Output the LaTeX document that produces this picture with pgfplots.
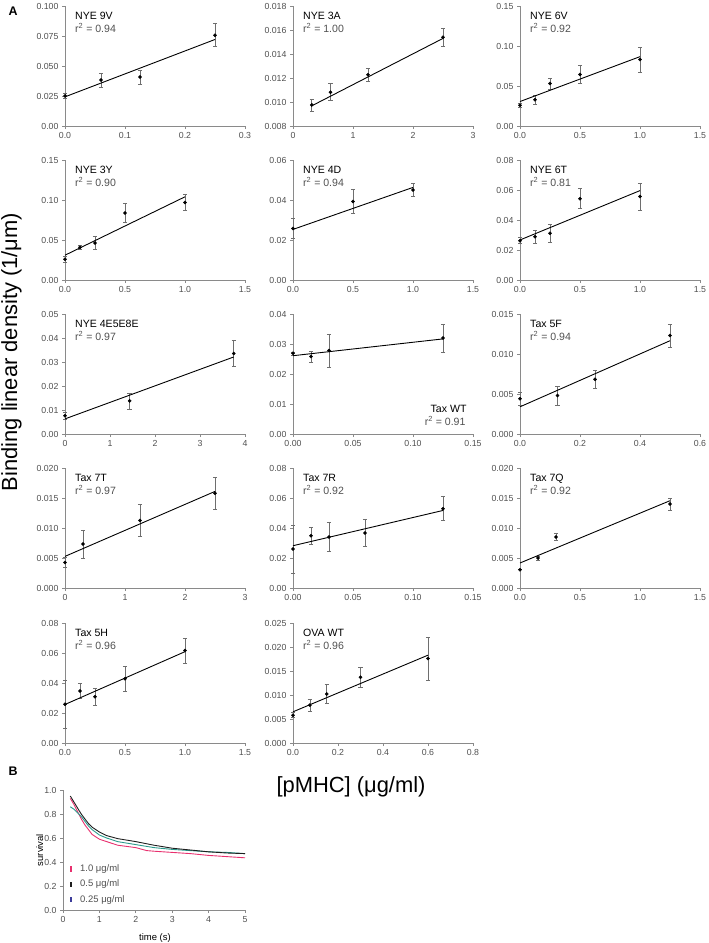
\documentclass[border=0pt]{standalone}
\usepackage{pgfplots}
\pgfplotsset{compat=1.18}
\usepackage{fontspec}
\setmainfont{Liberation Sans}
\definecolor{axgray}{HTML}{8A8A8A}
\definecolor{tkgray}{HTML}{505050}
\definecolor{errgray}{HTML}{6E6E6E}
\definecolor{rgray}{HTML}{505050}
\definecolor{kmpink}{HTML}{E8306E}
\definecolor{kmteal}{HTML}{2A9A8C}
\definecolor{kmblack}{HTML}{1E1E1E}
\definecolor{kmpurple}{HTML}{3C3C9A}
\newcommand{\tkfont}{\fontsize{8.8}{10}\selectfont}
\newcommand{\ttl}{\fontsize{10.6}{12}\selectfont}
\newcommand{\ptitle}[2]{%
  \node[anchor=base west, font=\ttl] at ([xshift=6.7bp,yshift=-13.7bp]rel axis cs:0,1) {#1};
  \node[anchor=base west, font=\ttl, text=rgray] at ([xshift=6.7bp,yshift=-26.3bp]rel axis cs:0,1) {r\textsuperscript{2} = #2};}
\pgfplotsset{
  panel/.style={scale only axis, width=180bp, height=120bp, anchor=south west,
    axis lines=left, axis line style={-, draw=axgray, line width=0.7pt},
    tick style={draw=axgray, line width=0.7pt}, tick align=outside, major tick length=3bp,
    ticklabel style={font=\tkfont, text=tkgray},
    scaled x ticks=false, scaled y ticks=false,
    enlargelimits=false, clip=false},
  pts/.style={only marks, mark=*, mark size=1.6bp, black,
    error bars/.cd, y dir=both, y explicit,
    error bar style={line width=0.6pt, errgray},
    error mark options={rotate=90, line width=0.6pt, errgray, mark size=2.2bp}},
  fit/.style={black, line width=0.9pt}
}
\begin{document}
\begin{tikzpicture}
\useasboundingbox (0,0) rectangle (709bp,-943bp);
\node[anchor=north west, font=\bfseries\fontsize{12.5}{14}\selectfont] at (5bp,-3bp) {A};
\node[anchor=north west, font=\bfseries\fontsize{12.5}{14}\selectfont] at (5bp,-763bp) {B};
\node[anchor=base, rotate=90, font=\fontsize{22}{26}\selectfont] at (17bp,-352bp) {Binding linear density (1/μm)};
\node[anchor=base west, font=\fontsize{22}{26}\selectfont] at (273bp,-792bp) {[pMHC] (μg/ml)};

% Row 1
\begin{axis}[panel, at={(65bp,-126bp)}, xmin=0, xmax=0.3, xtick={0,0.1,0.2,0.3}, xticklabels={0.0,0.1,0.2,0.3},
  ymin=0, ymax=0.1, ytick={0,0.025,0.05,0.075,0.1}, yticklabels={0.00,0.025,0.050,0.075,0.100}]
\addplot[pts] table[x=x,y=y,y error=e] {
x y e
0 0.0251 0.0023
0.06 0.0383 0.006
0.125 0.0408 0.0057
0.25 0.0757 0.0096
};
\addplot[fit] coordinates {(0,0.0243) (0.25,0.0721)};
\ptitle{NYE 9V}{0.94}
\end{axis}

\begin{axis}[panel, at={(293bp,-126bp)}, xmin=0, xmax=3, xtick={0,1,2,3}, xticklabels={0,1,2,3},
  ymin=0.008, ymax=0.018, ytick={0.008,0.010,0.012,0.014,0.016,0.018}, yticklabels={0.008,0.010,0.012,0.014,0.016,0.018}]
\addplot[pts] table[x=x,y=y,y error=e] {
x y e
0.3125 0.00976 0.0005
0.625 0.01082 0.0007
1.25 0.01227 0.00056
2.5 0.0154 0.00074
};
\addplot[fit] coordinates {(0.3125,0.00968) (2.5,0.0153)};
\ptitle{NYE 3A}{1.00}
\end{axis}

\begin{axis}[panel, at={(520bp,-126bp)}, xmin=0, xmax=1.5, xtick={0,0.5,1,1.5}, xticklabels={0.0,0.5,1.0,1.5},
  ymin=0, ymax=0.15, ytick={0,0.05,0.1,0.15}, yticklabels={0.00,0.05,0.10,0.15}]
\addplot[pts] table[x=x,y=y,y error=e] {
x y e
0 0.026 0.003
0.125 0.0327 0.0054
0.25 0.0532 0.007
0.5 0.0645 0.011
1.0 0.083 0.016
};
\addplot[fit] coordinates {(0,0.0306) (1,0.0867)};
\ptitle{NYE 6V}{0.92}
\end{axis}

% Row 2
\begin{axis}[panel, at={(65bp,-280bp)}, xmin=0, xmax=1.5, xtick={0,0.5,1,1.5}, xticklabels={0.0,0.5,1.0,1.5},
  ymin=0, ymax=0.15, ytick={0,0.05,0.1,0.15}, yticklabels={0.00,0.05,0.10,0.15}]
\addplot[pts] table[x=x,y=y,y error=e] {
x y e
0 0.026 0.004
0.125 0.0408 0.002
0.25 0.0463 0.0083
0.5 0.0838 0.012
1.0 0.097 0.0104
};
\addplot[fit] coordinates {(0,0.031) (1,0.104)};
\ptitle{NYE 3Y}{0.90}
\end{axis}

\begin{axis}[panel, at={(293bp,-280bp)}, xmin=0, xmax=1.5, xtick={0,0.5,1,1.5}, xticklabels={0.0,0.5,1.0,1.5},
  ymin=0, ymax=0.06, ytick={0,0.02,0.04,0.06}, yticklabels={0.00,0.02,0.04,0.06}]
\addplot[pts] table[x=x,y=y,y error=e] {
x y e
0 0.0258 0.005
0.5 0.0393 0.006
1.0 0.045 0.0033
};
\addplot[fit] coordinates {(0,0.0253) (1,0.0463)};
\ptitle{NYE 4D}{0.94}
\end{axis}

\begin{axis}[panel, at={(520bp,-280bp)}, xmin=0, xmax=1.5, xtick={0,0.5,1,1.5}, xticklabels={0.0,0.5,1.0,1.5},
  ymin=0, ymax=0.08, ytick={0,0.02,0.04,0.06,0.08}, yticklabels={0.00,0.02,0.04,0.06,0.08}]
\addplot[pts] table[x=x,y=y,y error=e] {
x y e
0 0.0262 0.002
0.125 0.0289 0.0041
0.25 0.0311 0.0059
0.5 0.0542 0.0067
1.0 0.0556 0.0092
};
\addplot[fit] coordinates {(0,0.0267) (1,0.0596)};
\ptitle{NYE 6T}{0.81}
\end{axis}

% Row 3
\begin{axis}[panel, at={(65bp,-434bp)}, xmin=0, xmax=4, xtick={0,1,2,3,4}, xticklabels={0,1,2,3,4},
  ymin=0, ymax=0.05, ytick={0,0.01,0.02,0.03,0.04,0.05}, yticklabels={0.00,0.01,0.02,0.03,0.04,0.05}]
\addplot[pts] table[x=x,y=y,y error=e] {
x y e
0 0.0076 0.0015
1.4375 0.0138 0.0033
3.75 0.0335 0.0054
};
\addplot[fit] coordinates {(0,0.0063) (3.75,0.0321)};
\ptitle{NYE 4E5E8E}{0.97}
\end{axis}

\begin{axis}[panel, at={(293bp,-434bp)}, xmin=0, xmax=0.15, xtick={0,0.05,0.1,0.15}, xticklabels={0.00,0.05,0.10,0.15},
  ymin=0, ymax=0.04, ytick={0,0.01,0.02,0.03,0.04}, yticklabels={0.00,0.01,0.02,0.03,0.04}]
\addplot[pts] table[x=x,y=y,y error=e] {
x y e
0 0.0269 0.0005
0.015 0.0258 0.0019
0.03 0.0278 0.0054
0.125 0.032 0.0046
};
\addplot[fit] coordinates {(0,0.0261) (0.125,0.0317)};
\node[anchor=base east, font=\ttl] at ([xshift=-3bp,yshift=22bp]rel axis cs:1,0) {Tax WT};
\node[anchor=base east, font=\ttl, text=rgray] at ([xshift=-4bp,yshift=9bp]rel axis cs:1,0) {r\textsuperscript{2} = 0.91};
\end{axis}

\begin{axis}[panel, at={(520bp,-434bp)}, xmin=0, xmax=0.6, xtick={0,0.2,0.4,0.6}, xticklabels={0.0,0.2,0.4,0.6},
  ymin=0, ymax=0.015, ytick={0,0.005,0.01,0.015}, yticklabels={0.000,0.005,0.010,0.015}]
\addplot[pts] table[x=x,y=y,y error=e] {
x y e
0 0.0044 0.0008
0.125 0.0048 0.0012
0.25 0.00683 0.0011
0.5 0.0123 0.0014
};
\addplot[fit] coordinates {(0,0.0034) (0.5,0.01166)};
\ptitle{Tax 5F}{0.94}
\end{axis}

% Row 4
\begin{axis}[panel, at={(65bp,-588bp)}, xmin=0, xmax=3, xtick={0,1,2,3}, xticklabels={0,1,2,3},
  ymin=0, ymax=0.02, ytick={0,0.005,0.01,0.015,0.02}, yticklabels={0.000,0.005,0.010,0.015,0.020}]
\addplot[pts] table[x=x,y=y,y error=e] {
x y e
0 0.00427 0.0008
0.3 0.00733 0.0023
1.25 0.01127 0.0027
2.5 0.0158 0.0026
};
\addplot[fit] coordinates {(0,0.00527) (2.5,0.0161)};
\ptitle{Tax 7T}{0.97}
\end{axis}

\begin{axis}[panel, at={(293bp,-588bp)}, xmin=0, xmax=0.15, xtick={0,0.05,0.1,0.15}, xticklabels={0.00,0.05,0.10,0.15},
  ymin=0, ymax=0.08, ytick={0,0.02,0.04,0.06,0.08}, yticklabels={0.00,0.02,0.04,0.06,0.08}]
\addplot[pts] table[x=x,y=y,y error=e] {
x y e
0 0.026 0.016
0.015 0.0349 0.0055
0.03 0.034 0.0097
0.06 0.0367 0.009
0.125 0.0529 0.008
};
\addplot[fit] coordinates {(0,0.0282) (0.125,0.0517)};
\ptitle{Tax 7R}{0.92}
\end{axis}

\begin{axis}[panel, at={(520bp,-588bp)}, xmin=0, xmax=1.5, xtick={0,0.5,1,1.5}, xticklabels={0.0,0.5,1.0,1.5},
  ymin=0, ymax=0.02, ytick={0,0.005,0.01,0.015,0.02}, yticklabels={0.000,0.005,0.010,0.015,0.020}]
\addplot[pts] table[x=x,y=y,y error=e] {
x y e
0 0.00305 0
0.15 0.005 0.0003
0.3 0.0085 0.0006
1.25 0.014 0.001
};
\addplot[fit] coordinates {(0,0.00417) (1.25,0.01455)};
\ptitle{Tax 7Q}{0.92}
\end{axis}

% Row 5
\begin{axis}[panel, at={(65bp,-743bp)}, xmin=0, xmax=1.5, xtick={0,0.5,1,1.5}, xticklabels={0.0,0.5,1.0,1.5},
  ymin=0, ymax=0.08, ytick={0,0.02,0.04,0.06,0.08}, yticklabels={0.00,0.02,0.04,0.06,0.08}]
\addplot[pts] table[x=x,y=y,y error=e] {
x y e
0 0.0259 0.016
0.125 0.0347 0.005
0.25 0.0308 0.0055
0.5 0.0429 0.0084
1.0 0.0616 0.0085
};
\addplot[fit] coordinates {(0,0.0257) (1,0.0609)};
\ptitle{Tax 5H}{0.96}
\end{axis}

\begin{axis}[panel, at={(293bp,-743bp)}, xmin=0, xmax=0.8, xtick={0,0.2,0.4,0.6,0.8}, xticklabels={0.0,0.2,0.4,0.6,0.8},
  ymin=0, ymax=0.025, ytick={0,0.005,0.01,0.015,0.02,0.025}, yticklabels={0.000,0.005,0.010,0.015,0.020,0.025}]
\addplot[pts] table[x=x,y=y,y error=e] {
x y e
0 0.0058 0.0005
0.075 0.0079 0.0012
0.15 0.0102 0.002
0.3 0.0137 0.002
0.6 0.0176 0.0045
};
\addplot[fit] coordinates {(0,0.0065) (0.6,0.0183)};
\ptitle{OVA WT}{0.96}
\end{axis}

% Panel B
\begin{axis}[panel, width=182bp, at={(63bp,-910bp)}, xmin=0, xmax=5, xtick={0,1,2,3,4,5}, xticklabels={0,1,2,3,4,5},
  ymin=0, ymax=1, ytick={0,0.2,0.4,0.6,0.8,1}, yticklabels={0.0,0.2,0.4,0.6,0.8,1.0},
  legend cell align=left,
  legend style={at={(rel axis cs:0.025,0.025)}, anchor=south west, draw=none, fill=none,
    font=\fontsize{9.5}{11}\selectfont, text=tkgray, row sep=3bp, inner sep=1bp},
  legend image code/.code={\draw[#1, line width=2.2pt] (0.06cm,-0.09cm) -- (0.06cm,0.09cm); \path (0cm,0cm) (0.32cm,0cm);}]
\addplot[kmpink, line width=0.9pt, forget plot] coordinates {(0.2,0.93) (0.3,0.88) (0.4,0.82) (0.5,0.76) (0.6,0.71) (0.7,0.67) (0.8,0.63) (1.0,0.59) (1.2,0.57) (1.5,0.54) (2.0,0.52) (2.3,0.495) (2.5,0.49) (3.0,0.48) (3.5,0.47) (4.0,0.455) (4.5,0.445) (5.0,0.435)};
\addplot[kmteal, line width=0.9pt, forget plot] coordinates {(0.2,0.86) (0.3,0.84) (0.4,0.81) (0.5,0.78) (0.6,0.74) (0.7,0.70) (0.8,0.67) (1.0,0.625) (1.2,0.60) (1.5,0.57) (2.0,0.545) (2.5,0.52) (3.0,0.505) (3.5,0.495) (4.0,0.485) (4.5,0.48) (5.0,0.47)};
\addplot[kmblack, line width=0.9pt, forget plot] coordinates {(0.2,0.95) (0.3,0.90) (0.4,0.85) (0.5,0.80) (0.6,0.76) (0.7,0.72) (0.8,0.69) (1.0,0.65) (1.2,0.62) (1.5,0.595) (2.0,0.57) (2.5,0.54) (3.0,0.515) (3.5,0.50) (4.0,0.485) (4.5,0.475) (5.0,0.47)};
\addlegendimage{kmpink}
\addlegendimage{kmblack}
\addlegendimage{kmpurple}
\legend{1.0 μg/ml, 0.5 μg/ml, 0.25 μg/ml}
\end{axis}
\node[anchor=base, rotate=90, font=\fontsize{9.5}{11}\selectfont] at (43bp,-850bp) {survival};
\node[anchor=base, font=\fontsize{9.5}{11}\selectfont] at (155bp,-940bp) {time (s)};
\end{tikzpicture}
\end{document}
